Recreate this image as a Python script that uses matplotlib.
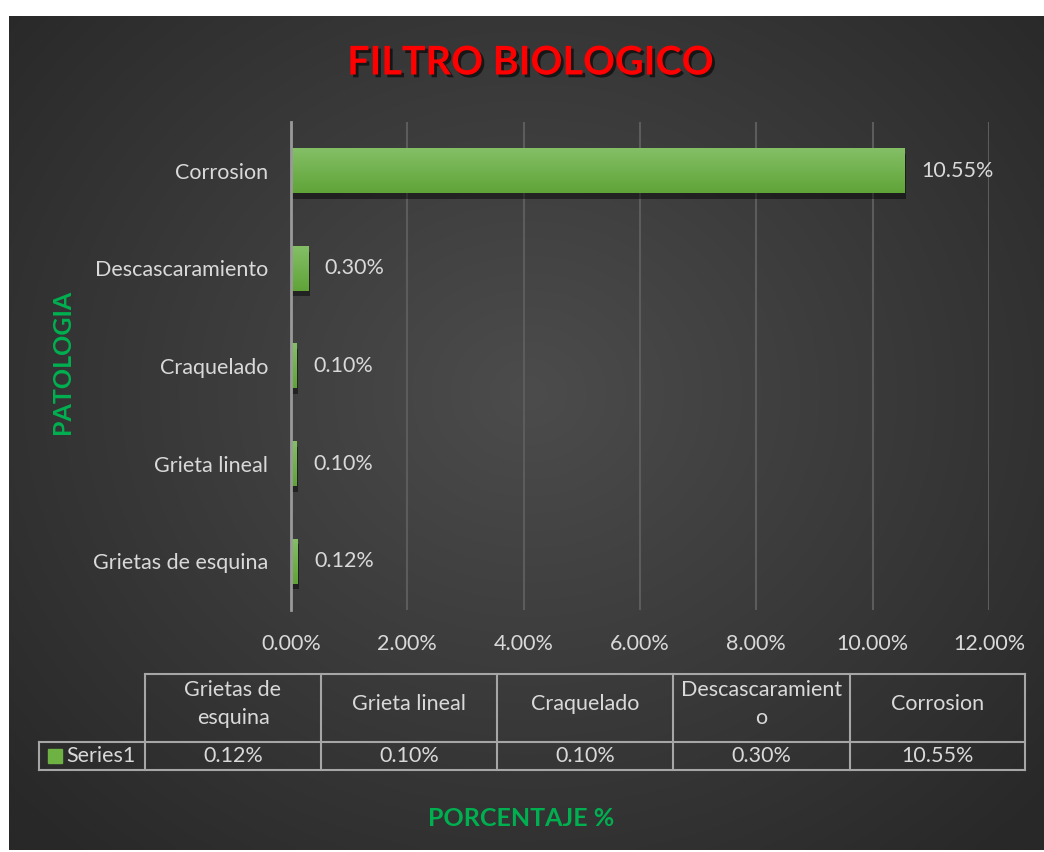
import numpy as np
import matplotlib.pyplot as plt
import matplotlib.patheffects as pe
from matplotlib.ticker import FuncFormatter

# datos
categorias = ["Grietas de esquina", "Grieta lineal", "Craquelado", "Descascaramiento", "Corrosion"]
valores = [0.12, 0.10, 0.10, 0.30, 10.55]  # porcentaje
encabezados_tabla = ["Grietas de\nesquina", "Grieta lineal", "Craquelado", "Descascaramient\no", "Corrosion"]
serie = "Series1"

plt.rcParams['font.family'] = ['Lato', 'DejaVu Sans']

W, H = 1044, 852
fig = plt.figure(figsize=(W / 100, H / 100), dpi=100)
fig.patch.set_facecolor("white")

# fondo con degradado radial
bg = fig.add_axes([9 / W, 2 / H, 1 - 9 / W, 1 - 18 / H])
yy, xx = np.mgrid[0:200, 0:250]
r = np.sqrt(((xx - 125) / 125) ** 2 + ((yy - 90) / 110) ** 2)
r = np.clip(r / 1.35, 0, 1)
c0, c1 = np.array([0x4c, 0x4c, 0x4c]) / 255, np.array([0x28, 0x28, 0x28]) / 255
img = c0[None, None, :] * (1 - r[..., None]) + c1[None, None, :] * r[..., None]
bg.imshow(img, aspect="auto", interpolation="bilinear")
bg.axis("off")

# grafico de barras
ax = fig.add_axes([291 / W, 1 - 610 / H, (989 - 291) / W, (610 - 122) / H])
ax.set_facecolor("none")
y = np.arange(len(categorias))
alto = 0.46
bars = ax.barh(y, valores, height=alto, color="#6eb243", zorder=3,
               path_effects=[pe.SimplePatchShadow(offset=(1, -4), shadow_rgbFace="black", alpha=0.45),
                             pe.Normal()])
# degradado vertical en cada barra (claro arriba, oscuro abajo)
grad = np.linspace(0, 1, 64)[:, None]
top, bot = np.array([0x84, 0xbf, 0x66]) / 255, np.array([0x60, 0xa4, 0x38]) / 255
gimg = top[None, None, :] * (1 - grad[..., None]) + bot[None, None, :] * grad[..., None]
for b in bars:
    x0, y0b = b.get_x(), b.get_y()
    ax.imshow(gimg, extent=(x0, x0 + b.get_width(), y0b, y0b + b.get_height()),
              aspect="auto", zorder=3.5, interpolation="bilinear")
ax.set_xlim(0, 12)
ax.set_ylim(-0.5, 4.5)
ax.set_xticks(np.arange(0, 13, 2))
ax.xaxis.set_major_formatter(FuncFormatter(lambda v, p: f"{v:.2f}%"))
ax.set_yticks(y)
ax.set_yticklabels(categorias)
ax.tick_params(axis="both", length=0, colors="#d9d9d9", labelsize=15.5)
ax.tick_params(axis="x", pad=17)
ax.tick_params(axis="y", pad=16.5)
ax.grid(axis="x", color="#5c5c5c", linewidth=1.5, zorder=0)
for s in ["top", "right", "bottom"]:
    ax.spines[s].set_visible(False)
ax.spines["left"].set_color("#9a9a9a")
ax.spines["left"].set_linewidth(2)
ax.spines["left"].set_zorder(4)

for yi, v in zip(y, valores):
    ax.text(v + 0.28, yi, f"{v:.2f}%", va="center", ha="left", color="#d9d9d9", fontsize=15.5)

# titulo y ejes
fig.text(531 / W, 1 - 63 / H, "FILTRO BIOLOGICO", color="#ff0000", fontsize=28.5, fontweight="bold",
         ha="center", va="center",
         path_effects=[pe.withSimplePatchShadow(offset=(2, -2), shadow_rgbFace="black", alpha=0.6)])
fig.text(62 / W, 1 - 362 / H, "PATOLOGIA", color="#00b050", fontsize=18, fontweight="bold",
         rotation=90, ha="center", va="center")
fig.text(521 / W, 1 - 818 / H, "PORCENTAJE %", color="#00b050", fontsize=18, fontweight="bold",
         ha="center", va="center")

# tabla de datos
tab = fig.add_axes([0, 0, 1, 1])
tab.set_xlim(0, W)
tab.set_ylim(H, 0)
tab.axis("off")
lc, lw = "#a6a6a6", 1.5
cols = [145, 321, 497, 673, 850, 1025]
y0, y1, y2 = 674, 742, 770
tab.plot([cols[0], cols[-1]], [y0, y0], color=lc, lw=lw)
tab.plot([39, cols[-1]], [y1, y1], color=lc, lw=lw)
tab.plot([39, cols[-1]], [y2, y2], color=lc, lw=lw)
tab.plot([39, 39], [y1, y2], color=lc, lw=lw)
for cx in cols:
    tab.plot([cx, cx], [y0, y2], color=lc, lw=lw)
for i, (enc, v) in enumerate(zip(encabezados_tabla, valores)):
    xc = (cols[i] + cols[i + 1]) / 2
    tab.text(xc, 704, enc, ha="center", va="center", color="#d9d9d9",
             fontsize=15.5, linespacing=1.45)
    tab.text(xc, (y1 + y2) / 2, f"{v:.2f}%", ha="center", va="center", color="#d9d9d9", fontsize=15.5)
tab.add_patch(plt.Rectangle((48, 749), 14, 14, color="#6eb243"))
tab.text(66, (y1 + y2) / 2, serie, ha="left", va="center", color="#d9d9d9", fontsize=15.5)

fig.savefig("out.png", dpi=100, facecolor=fig.get_facecolor())
